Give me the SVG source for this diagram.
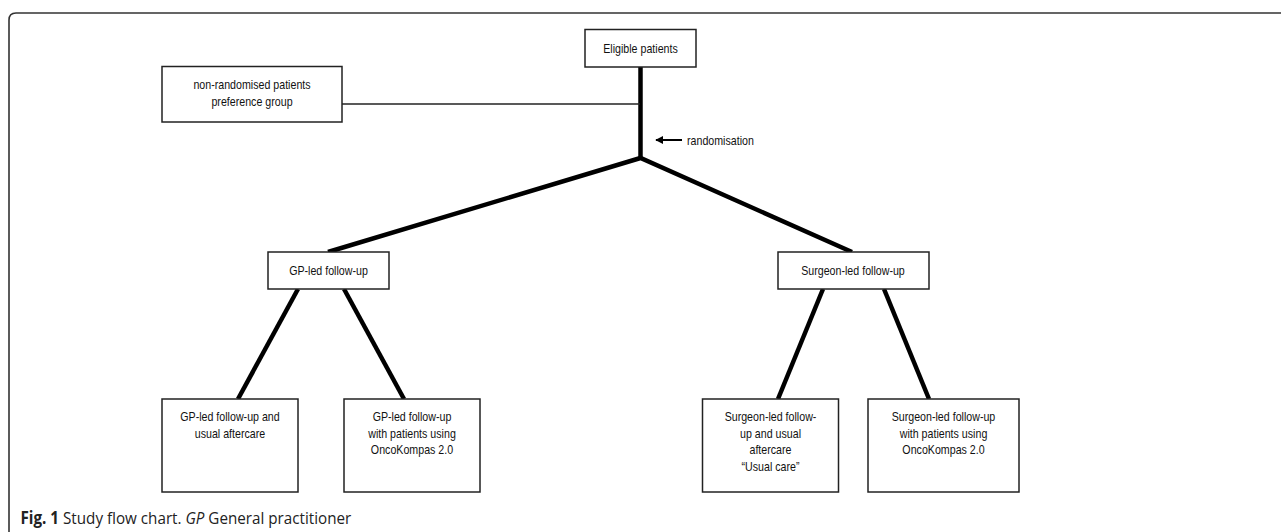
<svg xmlns="http://www.w3.org/2000/svg" width="1281" height="532" viewBox="0 0 1281 532">
  <style>
    .box { fill: #ffffff; stroke: #222222; stroke-width: 1.5; }
    .lbl { font-family: "Liberation Sans", Arial, sans-serif; font-size: 13px; fill: #111111; text-anchor: middle; }
    .thick { fill: none; stroke: #000000; stroke-width: 4.5; stroke-linejoin: miter; }
    .thin { fill: none; stroke: #222222; stroke-width: 1.5; }
    .cap { font-family: "Open Sans", "Noto Sans", sans-serif; font-size: 17px; fill: #222222; }
  </style>
  <defs>
    <marker id="ah" viewBox="0 0 10 10" refX="9" refY="5" markerWidth="8" markerHeight="8" markerUnits="userSpaceOnUse" orient="auto">
      <path d="M0,0 L10,5 L0,10 Z" fill="#000000"/>
    </marker>
  </defs>
  <rect width="1281" height="532" fill="#ffffff"/>
  <path d="M9,532 V20 Q9,13 16,13 H1281" fill="none" stroke="#333333" stroke-width="1.6"/>

  <g id="connectors">
    <path class="thick" d="M640.5,67 V158"/>
    <polyline class="thick" points="328,252 640.5,158 852,252"/>
    <line class="thin" x1="342" y1="104" x2="640" y2="104"/>
    <line x1="682" y1="140" x2="656" y2="140" stroke="#000000" stroke-width="2" marker-end="url(#ah)"/>
    <line class="thick" x1="298" y1="289" x2="238" y2="399"/>
    <line class="thick" x1="344" y1="289" x2="404" y2="399"/>
    <line class="thick" x1="823" y1="289" x2="778" y2="399"/>
    <line class="thick" x1="884" y1="289" x2="929" y2="399"/>
  </g>

  <text id="randomisation-label" class="lbl" transform="translate(687,144.5) scale(0.82,1)" style="text-anchor:start">randomisation</text>

  <g id="eligible">
    <rect class="box" x="585" y="29.5" width="111" height="37.5"/>
    <text class="lbl" transform="translate(640.5,52.5) scale(0.82,1)">Eligible patients</text>
  </g>
  <g id="nonrandomised">
    <rect class="box" x="162" y="66.5" width="180" height="55.5"/>
    <text class="lbl" transform="translate(252,88.5) scale(0.82,1)">non-randomised patients</text>
    <text class="lbl" transform="translate(252,105.5) scale(0.82,1)">preference group</text>
  </g>
  <g id="gp-led">
    <rect class="box" x="268" y="252" width="121" height="37"/>
    <text class="lbl" transform="translate(328.5,274.5) scale(0.82,1)">GP-led follow-up</text>
  </g>
  <g id="surgeon-led">
    <rect class="box" x="778" y="252" width="151" height="37"/>
    <text class="lbl" transform="translate(853,274.5) scale(0.82,1)">Surgeon-led follow-up</text>
  </g>
  <g id="gp-usual">
    <rect class="box" x="162" y="399" width="136" height="93"/>
    <text class="lbl" transform="translate(230,421) scale(0.82,1)">GP-led follow-up and</text>
    <text class="lbl" transform="translate(230,437.5) scale(0.82,1)">usual aftercare</text>
  </g>
  <g id="gp-oncokompas">
    <rect class="box" x="344" y="399" width="136" height="93"/>
    <text class="lbl" transform="translate(412,421) scale(0.82,1)">GP-led follow-up</text>
    <text class="lbl" transform="translate(412,437.5) scale(0.82,1)">with patients using</text>
    <text class="lbl" transform="translate(412,454) scale(0.82,1)">OncoKompas 2.0</text>
  </g>
  <g id="surgeon-usual">
    <rect class="box" x="702.5" y="399" width="136" height="93"/>
    <text class="lbl" transform="translate(770.5,421) scale(0.82,1)">Surgeon-led follow-</text>
    <text class="lbl" transform="translate(770.5,437.5) scale(0.82,1)">up and usual</text>
    <text class="lbl" transform="translate(770.5,454) scale(0.82,1)">aftercare</text>
    <text class="lbl" transform="translate(770.5,470.5) scale(0.82,1)">“Usual care”</text>
  </g>
  <g id="surgeon-oncokompas">
    <rect class="box" x="868" y="399" width="151" height="93"/>
    <text class="lbl" transform="translate(943.5,421) scale(0.82,1)">Surgeon-led follow-up</text>
    <text class="lbl" transform="translate(943.5,437.5) scale(0.82,1)">with patients using</text>
    <text class="lbl" transform="translate(943.5,454) scale(0.82,1)">OncoKompas 2.0</text>
  </g>

  <text id="caption" class="cap" transform="translate(20.5,524) scale(0.895,1)"><tspan font-weight="bold">Fig. 1</tspan> Study flow chart. <tspan font-style="italic">GP</tspan> General practitioner</text>
</svg>
